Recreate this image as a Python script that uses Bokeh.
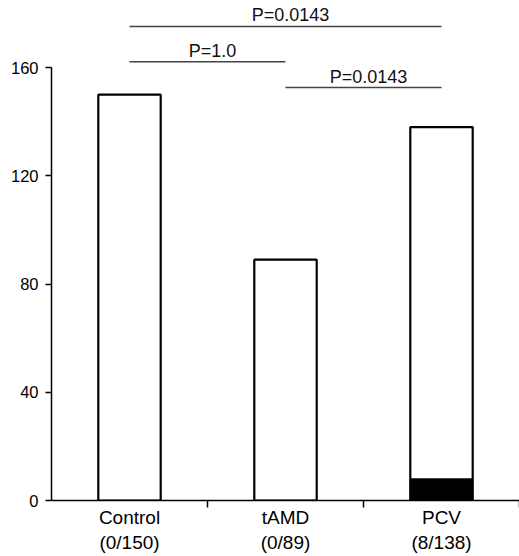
from bokeh.plotting import figure
from bokeh.models import FixedTicker, Range1d, ColumnDataSource
from bokeh.core.properties import value
from bokeh.embed import file_html
from bokeh.resources import INLINE

# ---- data ----
categories = ["Control", "tAMD", "PCV"]
positives = [0, 0, 8]
totals = [150, 89, 138]
y_ticks = [0, 40, 80, 120, 160]
comparisons = [(0, 2), (0, 1), (1, 2)]
p_labels = ["P=0.0143", "P=1.0", "P=0.0143"]

# ---- layout/style ----
bracket_levels = [175.2, 162.2, 152.6]
FONT = "Liberation Sans"
bar_w = 0.40

xs = [i + 0.5 for i in range(len(categories))]

p = figure(width=519, height=556, output_backend="svg", toolbar_location=None,
           x_range=Range1d(0, 3), y_range=Range1d(0, 184.8),
           min_border_left=51, min_border_right=0, min_border_top=0, min_border_bottom=56)
p.outline_line_color = None
p.grid.grid_line_color = None
p.background_fill_color = "white"
p.border_fill_color = "white"

src = ColumnDataSource(dict(x=xs, total=totals, pos=positives))
p.vbar(x="x", top="total", bottom=0, width=bar_w, source=src,
       fill_color="white", line_color="black", line_width=2.2)
p.vbar(x="x", top="pos", bottom=0, width=bar_w, source=src,
       fill_color="black", line_color="black", line_width=1)

# brackets
for (a, b), lab, lvl in zip(comparisons, p_labels, bracket_levels):
    p.line([xs[a], xs[b]], [lvl, lvl], line_color="#444444", line_width=1.5)
    p.text(x=[(xs[a] + xs[b]) / 2], y=[lvl], text=[lab], text_align="center",
           text_baseline="bottom", y_offset=-1, x_offset=5,
           text_font=value(FONT), text_font_size="18px", text_color="#111111")

# y axis
ya = p.yaxis[0]
ya.ticker = FixedTicker(ticks=y_ticks, minor_ticks=[])
ya.bounds = (0, 160)
ya.major_tick_in = 0
ya.major_tick_out = 6
ya.minor_tick_out = 0
ya.minor_tick_in = 0
ya.axis_line_width = 1.5
ya.major_tick_line_width = 1.5
ya.major_label_text_font = FONT
ya.major_label_text_font_size = "16.5px"
ya.major_label_text_color = "black"
ya.major_label_standoff = 7

# x axis
xa = p.xaxis[0]
xa.ticker = FixedTicker(ticks=xs, minor_ticks=[1, 2, 3])
xa.major_label_overrides = {x: f"{c}\n({n}/{t})" for x, c, n, t in zip(xs, categories, positives, totals)}
xa.major_tick_in = 0
xa.major_tick_out = 0
xa.minor_tick_in = 0
xa.minor_tick_out = 7
xa.minor_tick_line_width = 1.5
xa.minor_tick_line_color = "black"
xa.axis_line_width = 1.5
xa.major_label_text_font = FONT
xa.major_label_text_font_size = "19px"
xa.major_label_text_color = "black"
xa.major_label_standoff = -1

open("out.html", "w").write(file_html(p, INLINE))
